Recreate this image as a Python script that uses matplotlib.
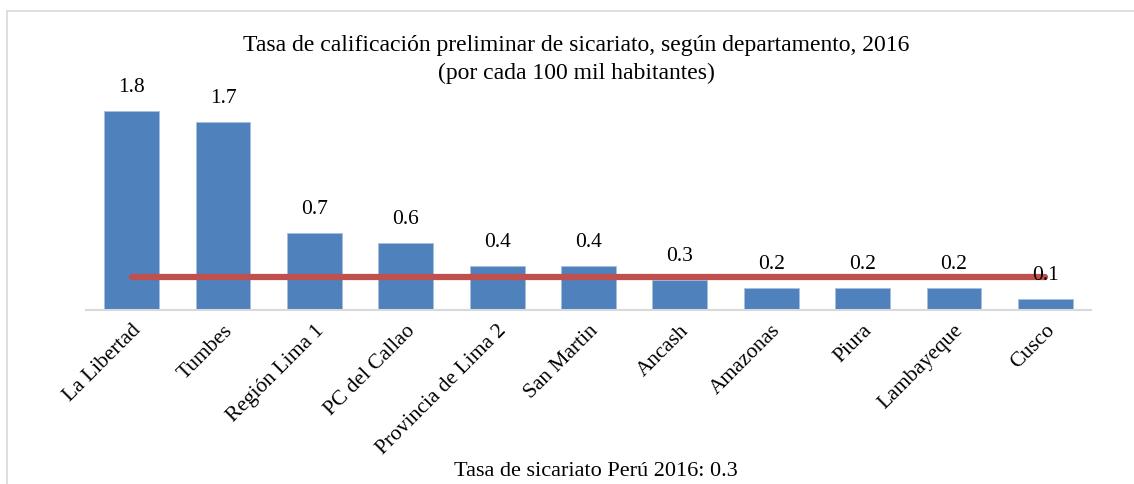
import matplotlib.pyplot as plt
from matplotlib.lines import Line2D

departamentos = ['La Libertad', 'Tumbes', 'Región Lima 1', 'PC del Callao',
                 'Provincia de Lima 2', 'San Martin', 'Ancash', 'Amazonas',
                 'Piura', 'Lambayeque', 'Cusco']
tasas = [1.80, 1.70, 0.70, 0.61, 0.40, 0.40, 0.27, 0.20, 0.20, 0.20, 0.10]
etiquetas = ['1.8', '1.7', '0.7', '0.6', '0.4', '0.4', '0.3', '0.2', '0.2', '0.2', '0.1']
tasa_peru = 0.3

plt.rcParams['font.family'] = ['Liberation Serif', 'DejaVu Serif']

fig = plt.figure(figsize=(11.34, 4.84), dpi=100)
W, H = 1134, 484
ax = fig.add_axes([86 / W, (H - 310) / H, (1091 - 86) / W, 221 / H])

x = list(range(len(departamentos)))
ax.bar(x, tasas, width=0.6, color='#4F81BD', edgecolor='#A7BFDE', linewidth=0.6, zorder=2)
ax.plot([x[0], x[-1]], [tasa_peru] * 2, color='#C0504D', linewidth=4.5,
        solid_capstyle='round', zorder=3)

for xi, v, lab in zip(x, tasas, etiquetas):
    ax.text(xi, v + 0.21, lab, ha='center', va='center', fontsize=15.5, zorder=4)

ax.set_xlim(-0.5, 10.5)
ax.set_ylim(0, 2.0)
ax.set_yticks([])
ax.set_xticks(x)
ax.set_xticklabels(departamentos, rotation=45, ha='right', rotation_mode='anchor', fontsize=15.5)
ax.tick_params(axis='x', length=0, pad=8)
for s in ['top', 'right', 'left']:
    ax.spines[s].set_visible(False)
ax.spines['bottom'].set_color('#D9D9D9')
ax.spines['bottom'].set_linewidth(1.5)

fig.text(576 / W, 1 - 45 / H, 'Tasa de calificación preliminar de sicariato, según departamento, 2016',
         ha='center', va='center', fontsize=17)
fig.text(576 / W, 1 - 73 / H, '(por cada 100 mil habitantes)',
         ha='center', va='center', fontsize=17)
fig.text(596 / W, 1 - 472 / H, 'Tasa de sicariato Perú 2016: 0.3',
         ha='center', va='center', fontsize=16)

# marco gris claro
fig.add_artist(Line2D([7 / W, 1.0], [1 - 11 / H] * 2, color='#D9D9D9', linewidth=1.2))
fig.add_artist(Line2D([7 / W] * 2, [0, 1 - 11 / H], color='#D9D9D9', linewidth=1.2))

fig.savefig('out.png', dpi=100)
